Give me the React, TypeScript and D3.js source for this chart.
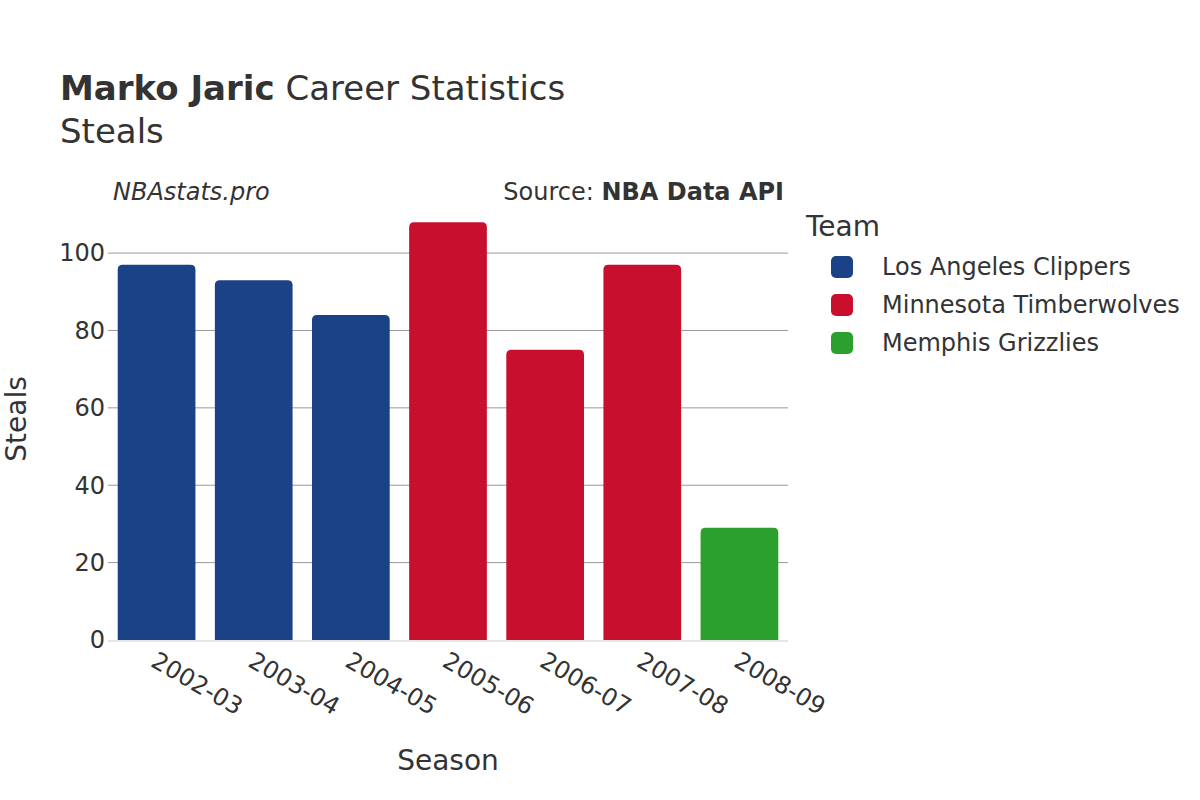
import * as d3 from "d3"
import React from "react"

const seasons = ["2002-03", "2003-04", "2004-05", "2005-06", "2006-07", "2007-08", "2008-09"]
const steals = [97, 93, 84, 108, 75, 97, 29]
const teamOf = ["LAC", "LAC", "LAC", "MIN", "MIN", "MIN", "MEM"]
const teams = ["LAC", "MIN", "MEM"]
const teamNames = ["Los Angeles Clippers", "Minnesota Timberwolves", "Memphis Grizzlies"]
const teamColors = ["#1b4187", "#c8102e", "#2ca02c"]
const yTicks = [0, 20, 40, 60, 80, 100]

const W = 1200
const H = 800
const left = 108
const right = 788
const top = 214
const bottom = 640

function topRounded(x: number, y: number, w: number, h: number, r: number) {
  const rr = Math.min(r, h, w / 2)
  return `M${x},${y + h} L${x},${y + rr} Q${x},${y} ${x + rr},${y} L${x + w - rr},${y} Q${x + w},${y} ${x + w},${y + rr} L${x + w},${y + h} Z`
}

export default function App() {
  const xScale = d3.scaleBand().domain(seasons).range([left, right]).paddingInner(0.2).paddingOuter(0.1)
  const yScale = d3.scaleLinear().domain([0, 110.1]).range([bottom, top])
  const color = d3.scaleOrdinal<string, string>().domain(teams).range(teamColors)
  const font = "'DejaVu Sans', sans-serif"

  return (
    <svg width={W} height={H} style={{ position: "absolute", left: 0, top: 0, fontFamily: font }}>
      <rect width={W} height={H} fill="#fff" />
      <text x={60} y={100} fontSize={34} fill="#333">
        <tspan fontWeight="bold">Marko Jaric</tspan> Career Statistics
      </text>
      <text x={60} y={143} fontSize={34} fill="#333">Steals</text>
      <text x={113} y={200} fontSize={24} fontStyle="italic" fill="#333">NBAstats.pro</text>
      <text x={784} y={200} fontSize={24} textAnchor="end" fill="#333">
        Source: <tspan fontWeight="bold">NBA Data API</tspan>
      </text>

      {yTicks.filter(t => t > 0).map(t => (
        <line key={t} x1={left} x2={right} y1={yScale(t)} y2={yScale(t)} stroke="#999" strokeWidth={1} />
      ))}
      {yTicks.map(t => (
        <text key={t} x={105} y={yScale(t)} dy="0.35em" textAnchor="end" fontSize={24} fill="#333">{t}</text>
      ))}

      {seasons.map((s, i) => {
        const x = xScale(s) as number
        const y = yScale(steals[i])
        return (
          <path key={s} d={topRounded(x, y, xScale.bandwidth(), bottom - y, 5)} fill={color(teamOf[i])} />
        )
      })}
      <line x1={left} x2={right} y1={bottom + 1} y2={bottom + 1} stroke="#e6e6e6" strokeWidth={2} />

      {seasons.map(s => {
        const cx = (xScale(s) as number) + xScale.bandwidth() / 2
        return (
          <text key={s} transform={`translate(${cx + 2},${650}) rotate(30)`} dy="0.75em" fontSize={24} fill="#333">{s}</text>
        )
      })}

      <text x={448} y={770} textAnchor="middle" fontSize={28} fill="#333">Season</text>
      <text transform={`translate(26,419) rotate(-90)`} textAnchor="middle" fontSize={28} fill="#333">Steals</text>

      <text x={806} y={236} fontSize={28} fill="#333">Team</text>
      {teams.map((t, i) => (
        <g key={t} transform={`translate(831,${267 + i * 38})`}>
          <rect x={0} y={-11} width={22} height={22} rx={5} fill={teamColors[i]} />
          <text x={51} y={0} dy="0.35em" fontSize={24} fill="#333">{teamNames[i]}</text>
        </g>
      ))}
    </svg>
  )
}
